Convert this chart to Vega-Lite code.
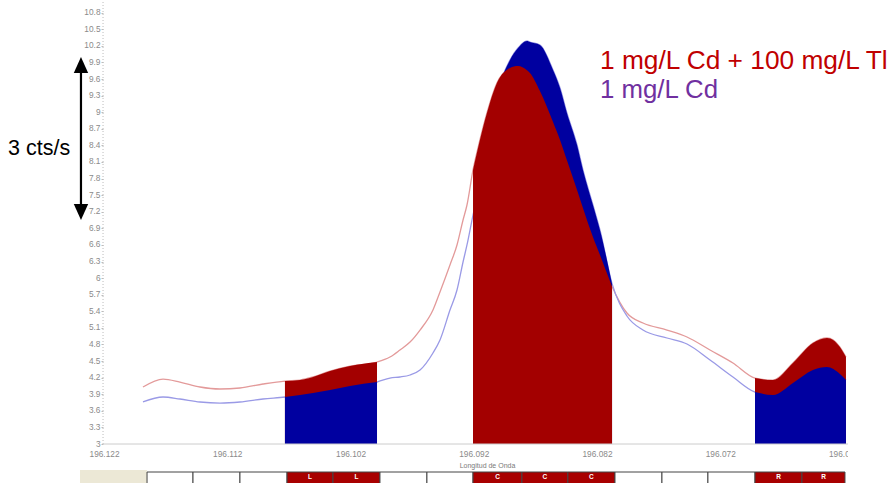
{
  "$schema": "https://vega.github.io/schema/vega-lite/v6.json",
  "width": 896,
  "height": 483,
  "autosize": {"type": "none"},
  "padding": 0,
  "background": "white",
  "config": {"font": "Liberation Sans", "view": {"stroke": null}, "axis": {"labelOverlap": false}},
  "datasets": {
    "curves": [
      {"wl": 196.11884, "tl": 4.031, "cd": 3.760},
      {"wl": 196.11721, "tl": 4.175, "cd": 3.850},
      {"wl": 196.11584, "tl": 4.121, "cd": 3.814},
      {"wl": 196.11421, "tl": 4.031, "cd": 3.760},
      {"wl": 196.11259, "tl": 3.995, "cd": 3.741},
      {"wl": 196.11097, "tl": 4.013, "cd": 3.760},
      {"wl": 196.10910, "tl": 4.085, "cd": 3.814},
      {"wl": 196.10732, "tl": 4.139, "cd": 3.850},
      {"wl": 196.10610, "tl": 4.157, "cd": 3.886},
      {"wl": 196.10504, "tl": 4.212, "cd": 3.922},
      {"wl": 196.10366, "tl": 4.320, "cd": 3.977},
      {"wl": 196.10204, "tl": 4.410, "cd": 4.049},
      {"wl": 196.09985, "tl": 4.483, "cd": 4.121},
      {"wl": 196.09880, "tl": 4.573, "cd": 4.193},
      {"wl": 196.09799, "tl": 4.700, "cd": 4.212},
      {"wl": 196.09717, "tl": 4.844, "cd": 4.248},
      {"wl": 196.09636, "tl": 5.061, "cd": 4.338},
      {"wl": 196.09531, "tl": 5.423, "cd": 4.646},
      {"wl": 196.09474, "tl": 5.749, "cd": 4.881},
      {"wl": 196.09393, "tl": 6.237, "cd": 5.423},
      {"wl": 196.09336, "tl": 6.599, "cd": 5.785},
      {"wl": 196.09287, "tl": 7.051, "cd": 6.291},
      {"wl": 196.09255, "tl": 7.322, "cd": 6.599},
      {"wl": 196.09206, "tl": 7.955, "cd": 7.141},
      {"wl": 196.09150, "tl": 8.497, "cd": 7.684},
      {"wl": 196.09093, "tl": 8.986, "cd": 8.316},
      {"wl": 196.09012, "tl": 9.528, "cd": 9.311},
      {"wl": 196.08906, "tl": 9.799, "cd": 9.944},
      {"wl": 196.08841, "tl": 9.835, "cd": 10.161},
      {"wl": 196.08768, "tl": 9.760, "cd": 10.288},
      {"wl": 196.08744, "tl": 9.709, "cd": 10.269},
      {"wl": 196.08663, "tl": 9.383, "cd": 10.215},
      {"wl": 196.08557, "tl": 8.823, "cd": 9.763},
      {"wl": 196.08500, "tl": 8.497, "cd": 9.438},
      {"wl": 196.08444, "tl": 8.130, "cd": 8.986},
      {"wl": 196.08362, "tl": 7.593, "cd": 8.407},
      {"wl": 196.08314, "tl": 7.268, "cd": 7.955},
      {"wl": 196.08233, "tl": 6.743, "cd": 7.322},
      {"wl": 196.08176, "tl": 6.418, "cd": 6.870},
      {"wl": 196.08078, "tl": 5.850, "cd": 5.900},
      {"wl": 196.07957, "tl": 5.369, "cd": 5.315},
      {"wl": 196.07827, "tl": 5.188, "cd": 5.061},
      {"wl": 196.07632, "tl": 5.061, "cd": 4.917},
      {"wl": 196.07470, "tl": 4.935, "cd": 4.808},
      {"wl": 196.07283, "tl": 4.700, "cd": 4.519},
      {"wl": 196.07097, "tl": 4.465, "cd": 4.212},
      {"wl": 196.06918, "tl": 4.193, "cd": 3.940},
      {"wl": 196.06772, "tl": 4.157, "cd": 3.886},
      {"wl": 196.06610, "tl": 4.465, "cd": 4.103},
      {"wl": 196.06448, "tl": 4.826, "cd": 4.338},
      {"wl": 196.06334, "tl": 4.917, "cd": 4.392},
      {"wl": 196.06229, "tl": 4.754, "cd": 4.266},
      {"wl": 196.06180, "tl": 4.573, "cd": 4.157}
    ],
    "cells": [
      {"lo": 196.11851, "hi": 196.11478, "mid": 196.116645, "lab": ""},
      {"lo": 196.11478, "hi": 196.11097, "mid": 196.112875, "lab": ""},
      {"lo": 196.11097, "hi": 196.10715, "mid": 196.10906, "lab": ""},
      {"lo": 196.10715, "hi": 196.10342, "mid": 196.105285, "lab": "L"},
      {"lo": 196.10342, "hi": 196.09961, "mid": 196.101515, "lab": "L"},
      {"lo": 196.09961, "hi": 196.09580, "mid": 196.097705, "lab": ""},
      {"lo": 196.09580, "hi": 196.09206, "mid": 196.09393, "lab": ""},
      {"lo": 196.09206, "hi": 196.08809, "mid": 196.090075, "lab": "C"},
      {"lo": 196.08809, "hi": 196.08436, "mid": 196.086225, "lab": "C"},
      {"lo": 196.08436, "hi": 196.08054, "mid": 196.08245, "lab": "C"},
      {"lo": 196.08054, "hi": 196.07673, "mid": 196.078635, "lab": ""},
      {"lo": 196.07673, "hi": 196.07300, "mid": 196.074865, "lab": ""},
      {"lo": 196.07300, "hi": 196.06918, "mid": 196.07109, "lab": ""},
      {"lo": 196.06918, "hi": 196.06537, "mid": 196.067275, "lab": "R"},
      {"lo": 196.06537, "hi": 196.06188, "mid": 196.063625, "lab": "R"}
    ],
    "one": [{}]
  },
  "layer": [
    {
      "data": {"name": "curves"},
      "mark": {"type": "line", "interpolate": "monotone", "color": "#E39A9A", "strokeWidth": 1.3},
      "encoding": {
        "x": {
          "field": "wl", "type": "quantitative",
          "scale": {"domain": [196.05774, 196.13044], "reverse": true, "zero": false, "nice": false},
          "axis": {
            "orient": "bottom", "offset": -39, "tickCount": 10,
            "values": [196.122, 196.112, 196.102, 196.092, 196.082, 196.072, 196.062],
            "format": ".3f", "domain": false, "ticks": false, "grid": false,
            "labelFontSize": 8.3, "labelColor": "#8a8a8a", "labelPadding": 5,
            "labelFlush": false, "labelOverlap": false,
            "title": "Longitud de Onda", "titleFontSize": 7, "titleFontWeight": "normal",
            "titleColor": "#7a7a7a", "titleX": 487, "titleY": 23, "titleBaseline": "alphabetic"
          }
        },
        "y": {
          "field": "tl", "type": "quantitative",
          "scale": {"domain": [2.295, 11.029], "zero": false, "nice": false},
          "axis": {
            "orient": "left", "offset": -103, "tickCount": 40,
            "values": [3, 3.3, 3.6, 3.9, 4.2, 4.5, 4.8, 5.1, 5.4, 5.7, 6, 6.3, 6.6, 6.9, 7.2, 7.5, 7.8, 8.1, 8.4, 8.7, 9, 9.3, 9.6, 9.9, 10.2, 10.5, 10.8],
            "format": ".1~f", "domain": false, "grid": false,
            "ticks": true, "tickSize": 2, "tickColor": "#bbbbbb",
            "labelFontSize": 8.3, "labelColor": "#8a8a8a", "labelPadding": 1,
            "labelOverlap": false, "labelSeparation": 0, "title": null
          }
        }
      }
    },
    {
      "data": {"name": "curves"},
      "mark": {"type": "line", "interpolate": "monotone", "color": "#9A9AE6", "strokeWidth": 1.3},
      "encoding": {
        "x": {"field": "wl", "type": "quantitative"},
        "y": {"field": "cd", "type": "quantitative"}
      }
    },
    {
      "data": {"name": "curves"},
      "transform": [{"filter": {"field": "wl", "range": [196.0998, 196.1074]}}],
      "mark": {"type": "area", "interpolate": "monotone", "color": "#A30000"},
      "encoding": {
        "x": {"field": "wl", "type": "quantitative"},
        "y": {"field": "tl", "type": "quantitative"},
        "y2": {"datum": 3}
      }
    },
    {
      "data": {"name": "curves"},
      "transform": [{"filter": {"field": "wl", "range": [196.0998, 196.1074]}}],
      "mark": {"type": "area", "interpolate": "monotone", "color": "#0000A0"},
      "encoding": {
        "x": {"field": "wl", "type": "quantitative"},
        "y": {"field": "cd", "type": "quantitative"},
        "y2": {"datum": 3}
      }
    },
    {
      "data": {"name": "curves"},
      "transform": [{"filter": {"field": "wl", "range": [196.0807, 196.0921]}}],
      "mark": {"type": "area", "interpolate": "monotone", "color": "#0000A0"},
      "encoding": {
        "x": {"field": "wl", "type": "quantitative"},
        "y": {"field": "cd", "type": "quantitative"},
        "y2": {"datum": 3}
      }
    },
    {
      "data": {"name": "curves"},
      "transform": [{"filter": {"field": "wl", "range": [196.0807, 196.0921]}}],
      "mark": {"type": "area", "interpolate": "monotone", "color": "#A30000"},
      "encoding": {
        "x": {"field": "wl", "type": "quantitative"},
        "y": {"field": "tl", "type": "quantitative"},
        "y2": {"datum": 3}
      }
    },
    {
      "data": {"name": "curves"},
      "transform": [{"filter": {"field": "wl", "range": [196.0617, 196.06925]}}],
      "mark": {"type": "area", "interpolate": "monotone", "color": "#A30000"},
      "encoding": {
        "x": {"field": "wl", "type": "quantitative"},
        "y": {"field": "tl", "type": "quantitative"},
        "y2": {"datum": 3}
      }
    },
    {
      "data": {"name": "curves"},
      "transform": [{"filter": {"field": "wl", "range": [196.0617, 196.06925]}}],
      "mark": {"type": "area", "interpolate": "monotone", "color": "#0000A0"},
      "encoding": {
        "x": {"field": "wl", "type": "quantitative"},
        "y": {"field": "cd", "type": "quantitative"},
        "y2": {"datum": 3}
      }
    },
    {
      "data": {"name": "one"},
      "mark": {"type": "rule", "color": "#bbbbbb", "strokeDash": [1, 2], "strokeWidth": 1},
      "encoding": {
        "x": {"datum": 196.12208},
        "y": {"datum": 3},
        "y2": {"datum": 11.029}
      }
    },
    {
      "data": {"name": "one"},
      "mark": {"type": "rule", "color": "#cccccc", "strokeWidth": 1},
      "encoding": {
        "x": {"datum": 196.12208},
        "x2": {"datum": 196.06164},
        "y": {"datum": 3}
      }
    },
    {
      "data": {"name": "one"},
      "mark": {"type": "rect", "color": "#ECE8D6"},
      "encoding": {
        "x": {"datum": 196.12395},
        "x2": {"datum": 196.11851},
        "y": {"datum": 2.53},
        "y2": {"datum": 2.2}
      }
    },
    {
      "data": {"name": "cells"},
      "mark": {"type": "rect", "stroke": "#444444", "strokeWidth": 1},
      "encoding": {
        "x": {"field": "lo", "type": "quantitative"},
        "x2": {"field": "hi"},
        "y": {"datum": 2.4937},
        "y2": {"datum": 2.2},
        "fill": {
          "field": "lab", "type": "nominal",
          "scale": {"domain": ["", "L", "C", "R"], "range": ["#ffffff", "#A80000", "#A80000", "#A80000"]},
          "legend": null
        }
      }
    },
    {
      "data": {"name": "cells"},
      "transform": [{"filter": "datum.lab != ''"}],
      "mark": {"type": "text", "color": "#ffffff", "fontSize": 6.5, "fontWeight": "bold", "baseline": "middle"},
      "encoding": {
        "x": {"field": "mid", "type": "quantitative"},
        "y": {"datum": 2.40},
        "text": {"field": "lab"}
      }
    },
    {
      "data": {"name": "one"},
      "mark": {"type": "rect", "color": "#ffffff"},
      "encoding": {
        "x": {"datum": 196.06164},
        "x2": {"datum": 196.0577},
        "y": {"datum": 2.2},
        "y2": {"datum": 11.029}
      }
    },
    {
      "data": {"name": "one"},
      "mark": {"type": "rule", "color": "#000000", "strokeWidth": 2.2},
      "encoding": {
        "x": {"datum": 196.12387},
        "y": {"datum": 9.76},
        "y2": {"datum": 7.30}
      }
    },
    {
      "data": {"name": "one"},
      "mark": {"type": "point", "shape": "M0,-1L-0.9,1L0.9,1Z", "filled": true, "size": 256, "color": "#000000", "opacity": 1},
      "encoding": {
        "x": {"datum": 196.12387},
        "y": {"datum": 9.854}
      }
    },
    {
      "data": {"name": "one"},
      "mark": {"type": "point", "shape": "M0,1L-0.9,-1L0.9,-1Z", "filled": true, "size": 256, "color": "#000000", "opacity": 1},
      "encoding": {
        "x": {"datum": 196.12387},
        "y": {"datum": 7.195}
      }
    },
    {
      "data": {"name": "one"},
      "mark": {"type": "text", "text": "3 cts/s", "fontSize": 21.5, "color": "#000000", "align": "left", "baseline": "alphabetic"},
      "encoding": {
        "x": {"datum": 196.12979},
        "y": {"datum": 8.226}
      }
    },
    {
      "data": {"name": "one"},
      "mark": {"type": "text", "text": "1 mg/L Cd + 100 mg/L Tl", "fontSize": 26.3, "color": "#C00000", "align": "left", "baseline": "alphabetic"},
      "encoding": {
        "x": {"datum": 196.08176},
        "y": {"datum": 9.781}
      }
    },
    {
      "data": {"name": "one"},
      "mark": {"type": "text", "text": "1 mg/L Cd", "fontSize": 25.8, "color": "#7030A0", "align": "left", "baseline": "alphabetic"},
      "encoding": {
        "x": {"datum": 196.08176},
        "y": {"datum": 9.257}
      }
    }
  ]
}
